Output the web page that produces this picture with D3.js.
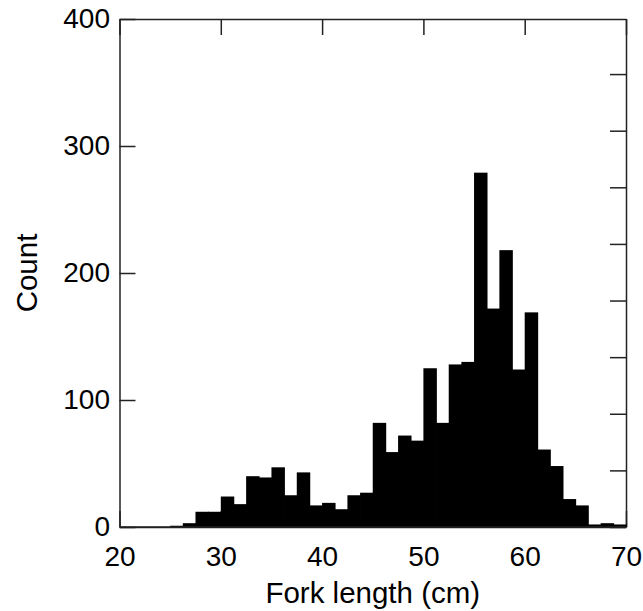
<!DOCTYPE html>
<html>
<head>
<meta charset="utf-8">
<script src="https://cdn.jsdelivr.net/npm/d3@7"></script>
<style>
    body { margin: 0; background: #fff; }
    svg { display: block; }
    text { font-family: "Liberation Sans", Arial, sans-serif; fill: #000; }
</style>
</head>
<body>
<svg width="643" height="611"></svg>
<script>
"use strict";

const topLeftX = 119.5;
const topLeftY = 19;
const bottomRightX = 626;
const bottomRightY = 527;

// histogram: 1.25 cm bins from 20 to 70
const binStart = 20;
const binWidth = 1.25;
const counts = [0, 0, 0, 0, 1, 3, 12, 12, 24, 18,
                40, 39, 47, 25, 43, 17, 19, 14, 25, 27,
                82, 59, 72, 68, 125, 82, 128, 130, 279, 172,
                218, 124, 169, 61, 48, 22, 17, 2, 3, 2];
const xTicks = [20, 30, 40, 50, 60, 70];
const yTicks = [0, 100, 200, 300, 400];
const pctTicks = [0, 2, 4, 6, 8, 10, 12, 14, 16];

window.addEventListener("load", init);
var xScale, yScale, pctScale;

function drawBars(svg) {
    let bins = counts.map((c, i) => ({x0: binStart + i * binWidth, x1: binStart + (i + 1) * binWidth, count: c}));
    svg.append("g").selectAll("rect")
        .data(bins.filter(b => b.count > 0))
        .join("rect")
            .attr("x", b => xScale(b.x0))
            .attr("width", b => xScale(b.x1) - xScale(b.x0) + 0.8) // overlap to hide seams
            .attr("y", b => yScale(b.count))
            .attr("height", b => yScale(0) - yScale(b.count))
            .attr("fill", "#000");
}

function styleAxis(g) {
    g.selectAll(".domain").attr("stroke", "#222").attr("stroke-width", 1.5);
    g.selectAll(".tick line").attr("stroke", "#222").attr("stroke-width", 1.5);
}

function init() {
    xScale = d3.scaleLinear().domain([20, 70]).range([topLeftX, bottomRightX]);
    yScale = d3.scaleLinear().domain([0, 400]).range([bottomRightY, topLeftY]);
    // right axis: percent of all fish, unlabeled
    let total = d3.sum(counts);
    pctScale = d3.scaleLinear().domain([0, 400 / total * 100]).range([bottomRightY, topLeftY]);

    const svg = d3.select("svg");

    svg.append("g")
        .attr("transform", `translate(0,${bottomRightY})`)
        .call(d3.axisBottom(xScale).tickValues(xTicks).tickSizeInner(-16).tickSizeOuter(0).tickPadding(19))
        .call(styleAxis)
        .call(g => g.selectAll("text").attr("font-size", 28).attr("font-family", null));

    svg.append("g")
        .attr("transform", `translate(0,${topLeftY})`)
        .call(d3.axisTop(xScale).tickValues(xTicks).tickSizeInner(-16).tickSizeOuter(0).tickFormat(""))
        .call(styleAxis);

    svg.append("g")
        .attr("transform", `translate(${topLeftX},0)`)
        .call(d3.axisLeft(yScale).tickValues(yTicks).tickSizeInner(-16).tickSizeOuter(0).tickPadding(9.5))
        .call(styleAxis)
        .call(g => g.selectAll("text").attr("font-size", 28).attr("font-family", null));

    svg.append("g")
        .attr("transform", `translate(${bottomRightX},0)`)
        .call(d3.axisRight(pctScale).tickValues(pctTicks).tickSizeInner(-16).tickSizeOuter(0).tickFormat(""))
        .call(styleAxis);

    drawBars(svg);

    // baseline over the bars
    svg.append("line")
        .attr("x1", topLeftX).attr("x2", bottomRightX)
        .attr("y1", bottomRightY).attr("y2", bottomRightY)
        .attr("stroke", "#222").attr("stroke-width", 1.5);

    svg.append("text")
        .attr("x", (topLeftX + bottomRightX) / 2)
        .attr("y", 603)
        .attr("text-anchor", "middle")
        .attr("font-size", 29.5)
        .text("Fork length (cm)");

    svg.append("text")
        .attr("transform", `translate(37,${(topLeftY + bottomRightY) / 2}) rotate(-90)`)
        .attr("text-anchor", "middle")
        .attr("font-size", 29.5)
        .text("Count");
}
</script>
</body>
</html>
